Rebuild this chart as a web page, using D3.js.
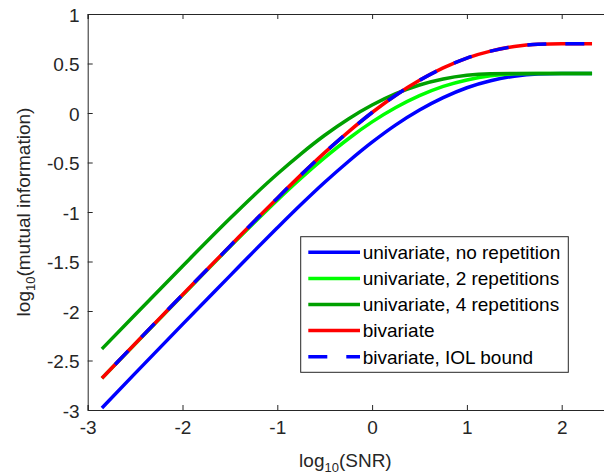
<!DOCTYPE html>
<html>
<head>
<meta charset="utf-8">
<script src="https://cdn.jsdelivr.net/npm/d3@7"></script>
<style>
  html, body { margin: 0; padding: 0; background: #fff; }
  svg { display: block; font-family: "Liberation Sans", Arial, sans-serif; }
</style>
</head>
<body>
<svg id="chart" width="604" height="476"></svg>
<script>
// log10(SNR) sample positions
const snr = [-2.85, -2.5, -2, -1.5, -1.25, -1, -0.75, -0.5, -0.25, 0, 0.25, 0.5, 0.75, 1, 1.25, 1.5, 1.75, 2, 2.32];

// log10(mutual information) for each configuration
const uniNoRep = [-2.98, -2.63, -2.135, -1.645, -1.40, -1.16, -0.925, -0.70, -0.49, -0.295, -0.12, 0.03, 0.155, 0.255, 0.325, 0.372, 0.395, 0.40, 0.40];
const uniRep2  = [-2.68, -2.333, -1.841, -1.352, -1.113, -0.88, -0.658, -0.451, -0.26, -0.09, 0.055, 0.175, 0.269, 0.334, 0.377, 0.396, 0.40, 0.40, 0.40];
const uniRep4  = [-2.383, -2.037, -1.547, -1.066, -0.835, -0.616, -0.412, -0.225, -0.06, 0.08, 0.195, 0.283, 0.344, 0.381, 0.397, 0.40, 0.40, 0.40, 0.40];
const bivariate = [-2.68, -2.33, -1.835, -1.345, -1.10, -0.86, -0.625, -0.40, -0.19, 0.005, 0.18, 0.33, 0.455, 0.555, 0.625, 0.672, 0.695, 0.70, 0.70];
const bivariateIOL = [-2.68, -2.33, -1.835, -1.345, -1.10, -0.86, -0.625, -0.40, -0.19, 0.005, 0.18, 0.33, 0.455, 0.555, 0.625, 0.672, 0.695, 0.70, 0.70];

const xTicks = [-3, -2, -1, 0, 1, 2];
const yTicks = [-3, -2.5, -2, -1.5, -1, -0.5, 0, 0.5, 1];

const seriesNames = [
  "univariate, no repetition",
  "univariate, 2 repetitions",
  "univariate, 4 repetitions",
  "bivariate",
  "bivariate, IOL bound"
];

const series = [
  { name: seriesNames[0], values: uniNoRep,    color: "#0000ff", dash: null },
  { name: seriesNames[1], values: uniRep2,     color: "#00ff00", dash: null },
  { name: seriesNames[2], values: uniRep4,     color: "#00a000", dash: null },
  { name: seriesNames[3], values: bivariate,   color: "#ff0000", dash: null },
  { name: seriesNames[4], values: bivariateIOL, color: "#0000ff", dash: "19,19" }
];

const svg = d3.select("#chart");
const axisColor = "#262626";
const fontSize = 19;

const plotLeft = 87.7, plotRight = 609.1, plotTop = 14, plotBottom = 410;

const x = d3.scaleLinear().domain([-3, 2.5]).range([plotLeft, plotRight]);
const y = d3.scaleLinear().domain([-3, 1]).range([plotBottom, plotTop]);

svg.append("rect").attr("width", 604).attr("height", 476).attr("fill", "#fff");

// plot curves, clipped to the axes box
svg.append("clipPath").attr("id", "plotClip")
  .append("rect").attr("x", plotLeft).attr("y", plotTop)
  .attr("width", plotRight - plotLeft).attr("height", plotBottom - plotTop);

const line = d3.line()
  .x((d, i) => x(snr[i]))
  .y(d => y(d))
  .curve(d3.curveMonotoneX);

const plot = svg.append("g").attr("clip-path", "url(#plotClip)");
series.forEach(s => {
  plot.append("path")
    .attr("d", line(s.values))
    .attr("fill", "none")
    .attr("stroke", s.color)
    .attr("stroke-width", 3.5)
    .attr("stroke-dasharray", s.dash)
    .attr("stroke-dashoffset", s.dash ? 19 : null)
    .attr("stroke-linejoin", "round");
});

// axes: bottom/left with labels, top/right tick marks only (box)
const tickLen = 5;
const fmt = d => String(d);
const gx = svg.append("g").attr("transform", `translate(0,${plotBottom})`)
  .call(d3.axisBottom(x).tickValues(xTicks).tickSize(-tickLen).tickPadding(11)
    .tickFormat(fmt));
const gy = svg.append("g").attr("transform", `translate(${plotLeft},0)`)
  .call(d3.axisLeft(y).tickValues(yTicks).tickSize(-tickLen).tickPadding(8)
    .tickFormat(fmt));
const gxt = svg.append("g").attr("transform", `translate(0,${plotTop})`)
  .call(d3.axisTop(x).tickValues(xTicks).tickSize(-tickLen).tickFormat(""));
const gyr = svg.append("g").attr("transform", `translate(${plotRight},0)`)
  .call(d3.axisRight(y).tickValues(yTicks).tickSize(-tickLen).tickFormat(""));

[gx, gy, gxt, gyr].forEach(g => {
  g.select(".domain").attr("stroke", axisColor).attr("stroke-width", 1);
  g.selectAll(".tick line").attr("stroke", axisColor).attr("stroke-width", 1);
  g.selectAll(".tick text")
    .attr("fill", axisColor)
    .attr("font-size", fontSize)
    .attr("font-family", "Liberation Sans, Arial, sans-serif");
});
gx.selectAll(".tick text").attr("dy", "0.71em");
gy.selectAll(".tick text").attr("dy", "0.38em");

// axis titles with subscripted 10
const xTitle = svg.append("text")
  .attr("x", (plotLeft + plotRight) / 2 - 3)
  .attr("y", 467)
  .attr("text-anchor", "middle")
  .attr("font-size", fontSize)
  .attr("fill", axisColor);
xTitle.append("tspan").text("log");
xTitle.append("tspan").attr("font-size", 13).attr("dy", 5).text("10");
xTitle.append("tspan").attr("dy", -5).text("(SNR)");

const yTitle = svg.append("text")
  .attr("transform", `translate(30,${(plotTop + plotBottom) / 2}) rotate(-90)`)
  .attr("text-anchor", "middle")
  .attr("font-size", fontSize)
  .attr("fill", axisColor);
yTitle.append("tspan").text("log");
yTitle.append("tspan").attr("font-size", 13).attr("dy", 5).text("10");
yTitle.append("tspan").attr("dy", -5).text("(mutual information)");

// legend
const lg = svg.append("g");
const lgX = 300.7, lgY = 236.7, lgW = 267.6, lgH = 135.6;
lg.append("rect")
  .attr("x", lgX).attr("y", lgY).attr("width", lgW).attr("height", lgH)
  .attr("fill", "#fff").attr("stroke", axisColor).attr("stroke-width", 1);

const rowY = d3.scalePoint().domain(seriesNames).range([252.3, 356.7]);
series.forEach(s => {
  const ry = rowY(s.name);
  lg.append("line")
    .attr("x1", 308.3).attr("x2", 360)
    .attr("y1", ry).attr("y2", ry)
    .attr("stroke", s.color).attr("stroke-width", 3.5)
    .attr("stroke-dasharray", s.dash ? "19,19" : null);
  lg.append("text")
    .attr("x", 362.7).attr("y", ry).attr("dy", "0.36em")
    .attr("font-size", fontSize).attr("fill", "#000")
    .text(s.name);
});
</script>
</body>
</html>
